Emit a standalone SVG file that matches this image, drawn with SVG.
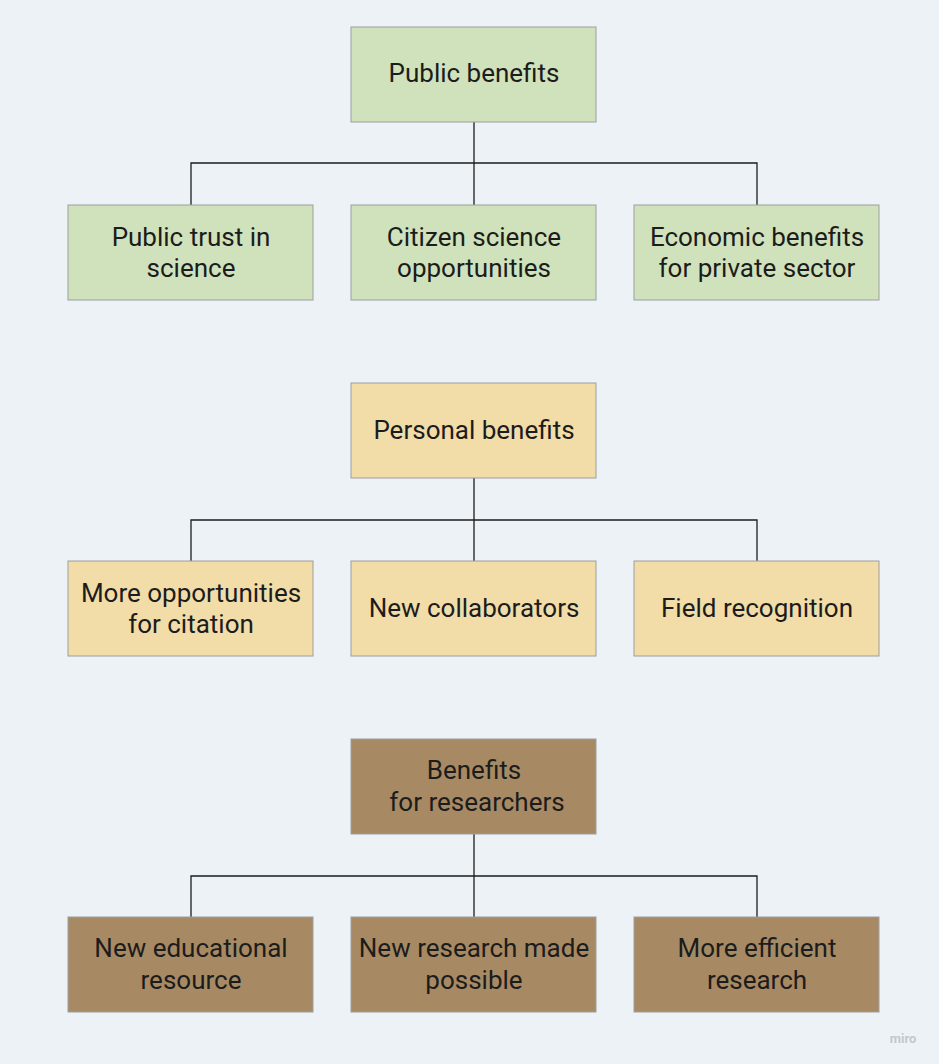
<svg xmlns="http://www.w3.org/2000/svg" width="939" height="1064" viewBox="0 0 939 1064">
<style>
.bg{fill:#edf2f6}
.box{stroke:#9e9e9e;stroke-width:1}
.g{fill:#d0e2bb}
.y{fill:#f2dca8}
.b{fill:#a78a64}
text{font-family:Roboto,"Liberation Sans",sans-serif;font-size:26px;fill:#1c1c1c;text-anchor:middle}
.c{fill:none;stroke:#1c1c1c;stroke-width:1.3}
.wm{font-size:13px;fill:#c4c8cc;font-weight:bold}
</style>
<rect class="bg" x="0" y="0" width="939" height="1064"/>
<g id="connectors">
<path class="c" d="M474 122V205M191 205V163H757V205"/>
<path class="c" d="M474 478V561M191 561V520H757V561"/>
<path class="c" d="M474 834V917M191 917V876H757V917"/>
</g>
<g id="public-benefits"><rect class="box g" x="351" y="27" width="245" height="95"/><text x="474" y="82">Public benefits</text></g>
<g id="public-trust"><rect class="box g" x="68" y="205" width="245" height="95"/><text x="191" y="246">Public trust in</text><text x="191" y="277">science</text></g>
<g id="citizen-science"><rect class="box g" x="351" y="205" width="245" height="95"/><text x="474" y="246">Citizen science</text><text x="474" y="277">opportunities</text></g>
<g id="economic-benefits"><rect class="box g" x="634" y="205" width="245" height="95"/><text x="757" y="246">Economic benefits</text><text x="757" y="277">for private sector</text></g>
<g id="personal-benefits"><rect class="box y" x="351" y="383" width="245" height="95"/><text x="474" y="439">Personal benefits</text></g>
<g id="more-opportunities"><rect class="box y" x="68" y="561" width="245" height="95"/><text x="191" y="602">More opportunities</text><text x="191" y="633">for citation</text></g>
<g id="new-collaborators"><rect class="box y" x="351" y="561" width="245" height="95"/><text x="474" y="617">New collaborators</text></g>
<g id="field-recognition"><rect class="box y" x="634" y="561" width="245" height="95"/><text x="757" y="617">Field recognition</text></g>
<g id="benefits-researchers"><rect class="box b" x="351" y="739" width="245" height="95"/><text x="474" y="779">Benefits</text><text x="477" y="811">for researchers</text></g>
<g id="new-educational"><rect class="box b" x="68" y="917" width="245" height="95"/><text x="191" y="957">New educational</text><text x="191" y="989">resource</text></g>
<g id="new-research"><rect class="box b" x="351" y="917" width="245" height="95"/><text x="474" y="957">New research made</text><text x="474" y="989">possible</text></g>
<g id="more-efficient"><rect class="box b" x="634" y="917" width="245" height="95"/><text x="757" y="957">More efficient</text><text x="757" y="989">research</text></g>
<text class="wm" x="903" y="1043">miro</text>
</svg>
